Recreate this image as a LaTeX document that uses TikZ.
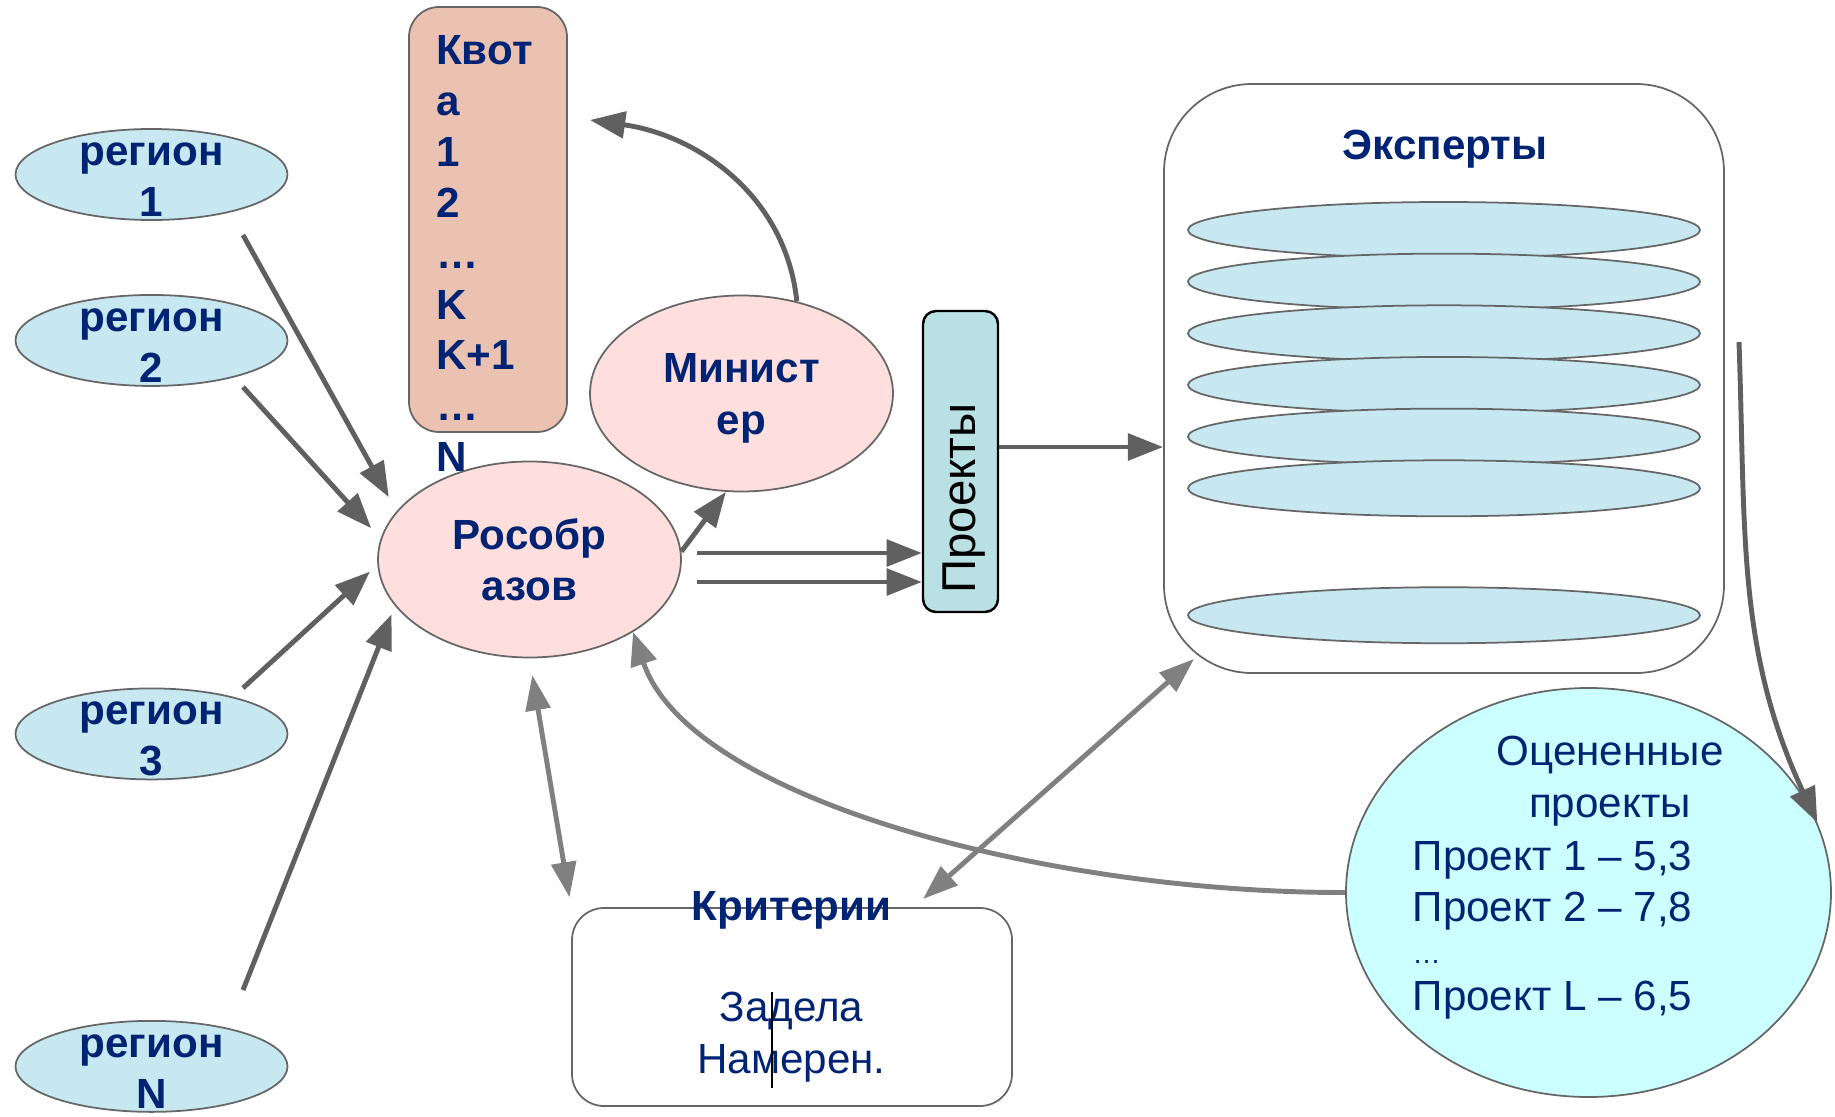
\documentclass[tikz,border=0pt]{standalone}
\usepackage{fontspec}
\setmainfont{Liberation Sans}
\usetikzlibrary{positioning,shapes.geometric,arrows.meta}
\definecolor{navytext}{RGB}{0,36,115}
\definecolor{edgegray}{RGB}{102,102,102}
\definecolor{regfill}{RGB}{199,232,241}
\definecolor{orgfill}{RGB}{255,222,222}
\definecolor{kvfill}{RGB}{235,194,177}
\definecolor{prfill}{RGB}{185,225,228}
\definecolor{ocfill}{RGB}{204,255,255}
\definecolor{arrowdark}{RGB}{96,96,96}
\definecolor{arrowlight}{RGB}{128,128,128}
\tikzset{region node/.style={ellipse,draw=edgegray,fill=regfill,line width=0.5pt,minimum width=2.72cm,minimum height=0.91cm,inner sep=0pt},
region text/.style={text=navytext,font=\fontsize{12}{14.6}\selectfont\bfseries,align=center,inner sep=0pt,yshift=-0.05cm},
org node/.style={ellipse,draw=edgegray,fill=orgfill,line width=0.5pt,minimum width=3.03cm,minimum height=1.96cm,inner sep=0pt},
org text/.style={text=navytext,font=\fontsize{12}{14.6}\selectfont\bfseries,align=center,inner sep=0pt},
quota node/.style={rectangle,rounded corners=0.3cm,draw=edgegray,fill=kvfill,line width=0.5pt,minimum width=1.58cm,minimum height=4.25cm},
title text/.style={text=navytext,font=\fontsize{12}{14.5}\selectfont\bfseries,inner sep=0pt},
proj node/.style={rectangle,rounded corners=0.13cm,draw=black,fill=prfill,line width=0.7pt,minimum width=0.75cm,minimum height=3.01cm},
expert box/.style={rectangle,rounded corners=0.88cm,draw=edgegray,line width=0.5pt,minimum width=5.6cm,minimum height=5.89cm},
expert node/.style={ellipse,draw=edgegray,fill=regfill,line width=0.5pt,minimum width=5.12cm,minimum height=0.56cm,inner sep=0pt},
eval node/.style={ellipse,draw=edgegray,fill=ocfill,line width=0.5pt,minimum width=4.85cm,minimum height=4.09cm,inner sep=0pt},
eval text/.style={text=navytext,font=\fontsize{12}{14.6}\selectfont,align=center,inner sep=0pt},
crit node/.style={rectangle,rounded corners=0.32cm,draw=edgegray,line width=0.5pt,minimum width=4.4cm,minimum height=1.98cm},
dark arrow/.style={draw=arrowdark,line width=1.4pt,-{Triangle[length=10pt,width=7.5pt]}},
light arrow/.style={draw=arrowlight,line width=1.4pt,-{Triangle[length=9.5pt,width=7.5pt]}},
light both/.style={draw=arrowlight,line width=1.4pt,{Triangle[length=10pt,width=7pt]}-{Triangle[length=10pt,width=7pt]}}}

\begin{document}
\begin{tikzpicture}
            \useasboundingbox (0,0) rectangle (18.35,-11.17);
            \node[region node,label={[region text]center:{регион\\1}}] (r1) at (1.515,-1.745) {};
            \node[region node,label={[region text]center:{регион\\2}}] (r2) [below=0.732cm of r1] {};
            \node[region node,label={[region text]center:{регион\\3}}] (r3) [below=3.007cm of r2] {};
            \node[region node,label={[region text]center:{регион\\N}}] (rN) [below=2.397cm of r3] {};

            \node[org node,label={[org text]center:{Рособр\\азов}}] (ros) at (5.295,-5.595) {};
            \node[org node,label={[org text,yshift=-0.05cm]center:{Минист\\ер}}] (min) at (7.415,-3.935) {};
            \node[quota node] (kv) at (4.88,-2.195) {};
            \node[title text,align=left,anchor=north west] (kvtxt) at (4.355,-0.345) {Квот\\а\\1\\2\\…\\K\\K+1\\…\\N};

            \node[proj node] (pr) at (9.605,-4.615) {};
            \node[rotate=90,inner sep=0pt,font=\fontsize{13.5}{16}\selectfont] (prtxt) at (9.645,-4.985) {Проекты};

            \node[expert box] (eks) at (14.44,-3.785) {};
            \node[title text] (ekstitle) at (14.45,-1.49) {Эксперты};
            \node[expert node] (e1) at (14.44,-2.30) {};
            \node[expert node] (e2) [below=-0.061cm of e1] {};
            \node[expert node] (e3) [below=-0.061cm of e2] {};
            \node[expert node] (e4) [below=-0.061cm of e3] {};
            \node[expert node] (e5) [below=-0.061cm of e4] {};
            \node[expert node] (e6) [below=-0.061cm of e5] {};
            \node[expert node] (e7) [below=0.692cm of e6] {};

            \node[eval node] (oc) at (15.885,-8.925) {};
            \node[eval text] (octitle) at (16.10,-7.81) {Оцененные\\проекты};
            \node[eval text,align=left,anchor=north west] (oclist) at (14.12,-8.40) {Проект 1 – 5,3\\Проект 2 – 7,8\\[-2.7pt]{\fontsize{8}{9}\selectfont …}\\[-1.2pt]Проект L – 6,5};

            \node[crit node] (kr) at (7.92,-10.07) {};
            \node[title text] (krtitle) at (7.915,-9.10) {Критерии};
            \node[eval text] (krtxt) at (7.915,-10.37) {Задела\\Намерен.};
            \draw[black,line width=0.4pt] (7.72,-9.92) -- (7.72,-10.88);

            \coordinate (s1) at (2.43,-2.35);
            \coordinate (s2) at (2.43,-3.87);
            \coordinate (s3) at (2.43,-6.88);
            \coordinate (sN) at (2.43,-9.90);
            \coordinate (p1) at (6.97,-5.53);
            \coordinate (p2) at (6.97,-5.82);
            \coordinate (kvin) at (5.90,-1.20);
            \coordinate (ekout) at (17.39,-3.42);
            \coordinate (ekdn) at (11.94,-6.59);
            \coordinate (krup) at (9.23,-8.99);

            \draw[dark arrow,shorten >=1.6mm] (s1) -- (ros.160);
            \draw[dark arrow,shorten >=1.4mm] (s2) -- (ros.172);
            \draw[dark arrow,shorten >=1mm] (s3) -- (ros.182);
            \draw[dark arrow,shorten >=0.9mm] (sN) -- (ros.199);
            \draw[dark arrow] (ros.3) -- (min.261);
            \draw[dark arrow] (p1) -- (p1 -| pr.west);
            \draw[dark arrow] (p2) -- (p2 -| pr.west);
            \draw[dark arrow] ([yshift=0.145cm]pr.east) -- ([yshift=0.145cm]pr.east -| eks.west);
            \draw[dark arrow] (min.59) to[out=96,in=-8] (kvin);
            \draw[dark arrow] (ekout) to[out=-88,in=115] (oc.17);

            \draw[light arrow] (oc.west) .. controls (10.50,-8.93) and (6.90,-8.00) .. (ros.-35);
            \draw[light both,shorten <=1.7mm,shorten >=1mm] (ros.south) -- (kr.north west);
            \draw[light both] (ekdn) -- (krup);
        \end{tikzpicture}
\end{document}
